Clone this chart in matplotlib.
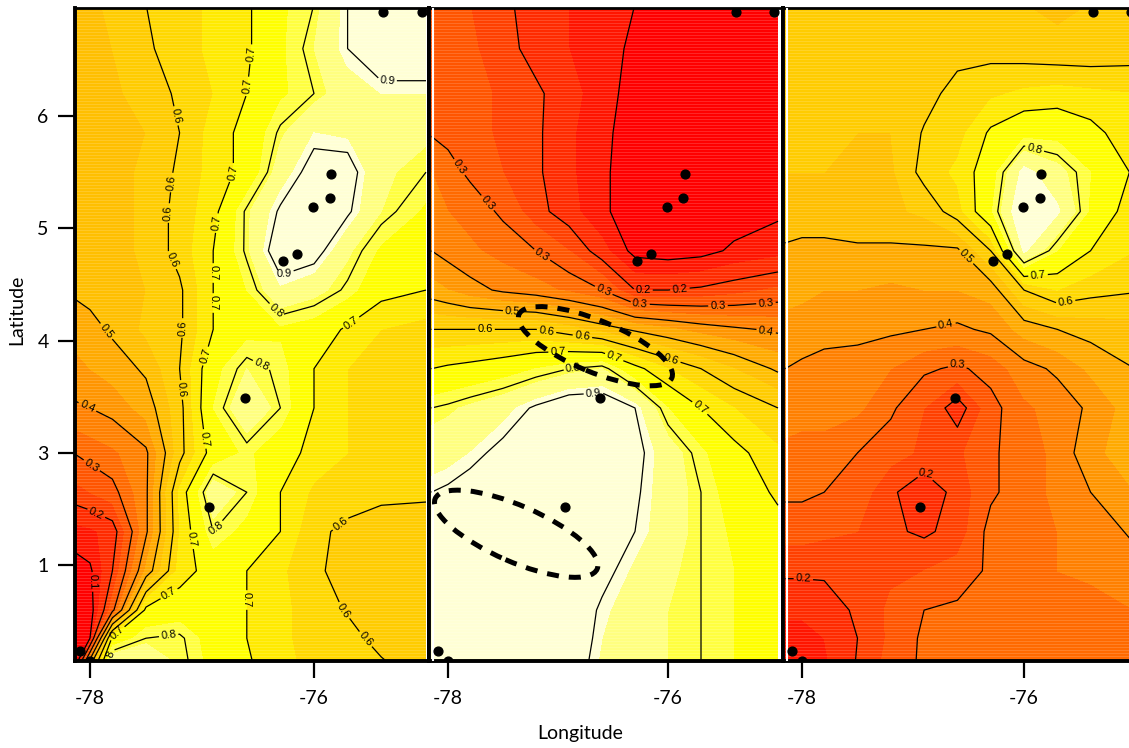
#!/usr/bin/env python3
import matplotlib
matplotlib.use("Agg")
import matplotlib.pyplot as plt
import numpy as np
from matplotlib.colors import BoundaryNorm, ListedColormap
from matplotlib.patches import Ellipse

plt.rcParams["font.family"] = ["Lato", "DejaVu Sans"]

lons = [-78.15, -78.0, -77.8, -77.5, -77.2, -76.9, -76.6, -76.3, -76.0, -75.7, -75.4, -75.0]
lats = [7.0, 6.6, 6.2, 5.85, 5.5, 5.15, 4.8, 4.45, 4.1, 3.75, 3.4, 3.0, 2.65, 2.3, 1.95, 1.6, 1.35, 1.1]

panel_a = [
    [.53, .54, .56, .60, .63, .66, .69, .76, .80, .90, .95, .95],
    [.52, .53, .55, .59, .63, .66, .69, .76, .82, .90, .95, .95],
    [.51, .52, .54, .57, .61, .65, .70, .76, .80, .85, .88, .88],
    [.50, .51, .53, .55, .60, .67, .72, .81, .88, .87, .84, .83],
    [.50, .51, .53, .56, .61, .67, .72, .85, .93, .93, .83, .80],
    [.50, .51, .53, .56, .62, .68, .81, .91, .95, .91, .82, .76],
    [.50, .51, .53, .56, .62, .70, .81, .95, .93, .83, .76, .73],
    [.51, .52, .53, .55, .59, .70, .77, .87, .84, .79, .72, .70],
    [.46, .48, .51, .56, .59, .70, .75, .76, .74, .69, .65, .63],
    [.44, .45, .47, .51, .60, .75, .82, .79, .70, .65, .64, .63],
    [.39, .40, .42, .47, .58, .77, .87, .80, .70, .65, .63, .62],
    [.30, .32, .34, .39, .58, .73, .78, .73, .68, .65, .63, .60],
    [.23, .25, .28, .39, .66, .86, .80, .70, .64, .62, .61, .61],
    [.13, .14, .17, .39, .65, .80, .75, .70, .61, .59, .58, .57],
    [.07, .09, .20, .46, .67, .73, .70, .66, .605, .59, .57, .57],
    [.05, .07, .28, .72, .74, .75, .70, .66, .63, .595, .58, .57],
    [.05, .10, .72, .80, .81, .74, .70, .66, .63, .62, .58, .57],
    [.05, .50, .90, .90, .82, .75, .71, .66, .64, .63, .61, .57],
]

panel_b = [
    [.26, .26, .25, .21, .18, .15, .12, .10, .07, .07, .06, .06],
    [.27, .27, .26, .22, .18, .15, .12, .09, .07, .06, .06, .06],
    [.28, .28, .27, .24, .21, .17, .12, .08, .06, .06, .06, .06],
    [.295, .285, .27, .24, .21, .16, .11, .08, .06, .06, .06, .06],
    [.35, .32, .29, .25, .21, .16, .11, .07, .06, .06, .06, .06],
    [.38, .35, .33, .29, .22, .17, .11, .07, .06, .06, .07, .09],
    [.40, .38, .36, .33, .30, .25, .17, .08, .07, .08, .11, .13],
    [.47, .45, .42, .39, .37, .34, .30, .20, .20, .21, .23, .26],
    [.60, .60, .60, .60, .60, .57, .53, .49, .46, .43, .41, .39],
    [.70, .71, .72, .74, .77, .80, .82, .72, .65, .60, .55, .49],
    [.80, .81, .83, .86, .91, .95, .95, .90, .77, .70, .65, .60],
    [.85, .86, .88, .92, .97, .98, .98, .92, .85, .78, .72, .66],
    [.90, .91, .93, .96, .98, .98, .97, .91, .85, .80, .74, .69],
    [.93, .94, .96, .98, .98, .98, .97, .90, .85, .80, .76, .72],
    [.95, .96, .97, .98, .98, .98, .92, .87, .83, .80, .77, .74],
    [.96, .97, .98, .98, .98, .95, .89, .85, .82, .80, .77, .75],
    [.97, .97, .98, .98, .98, .95, .88, .84, .82, .80, .77, .75],
    [.97, .97, .98, .98, .97, .94, .87, .84, .82, .80, .77, .75],
]

panel_c = [
    [.56, .57, .58, .59, .58, .57, .59, .57, .55, .54, .55, .58],
    [.57, .58, .58, .58, .57, .57, .58, .58, .57, .56, .56, .57],
    [.57, .57, .57, .56, .56, .58, .62, .64, .66, .67, .66, .65],
    [.56, .56, .56, .55, .55, .605, .63, .71, .75, .75, .72, .66],
    [.55, .55, .55, .54, .54, .62, .66, .74, .90, .84, .77, .69],
    [.54, .54, .54, .54, .54, .56, .63, .76, .95, .89, .76, .66],
    [.49, .48, .48, .49, .49, .49, .49, .60, .89, .77, .70, .65],
    [.47, .46, .45, .45, .44, .45, .45, .47, .60, .65, .62, .605],
    [.43, .43, .42, .42, .41, .40, .39, .41, .47, .50, .52, .53],
    [.40, .39, .38, .37, .35, .31, .29, .32, .38, .41, .46, .50],
    [.37, .36, .36, .36, .31, .25, .17, .28, .34, .37, .41, .48],
    [.34, .34, .34, .30, .27, .24, .24, .29, .33, .36, .44, .47],
    [.31, .31, .30, .28, .21, .16, .22, .29, .33, .36, .40, .45],
    [.27, .27, .26, .25, .21, .19, .22, .32, .33, .35, .37, .41],
    [.21, .21, .21, .24, .24, .25, .27, .31, .33, .35, .36, .38],
    [.16, .16, .17, .21, .26, .30, .31, .32, .33, .33, .33, .35],
    [.13, .13, .15, .20, .26, .31, .32, .33, .34, .34, .34, .35],
    [.12, .12, .14, .205, .27, .31, .33, .34, .35, .35, .35, .35],
]

site_lon = [-76.28, -76.15, -76.01, -75.86, -75.85, -75.38, -75.04, -76.62, -76.94, -78.09, -78.0]
site_lat = [4.71, 4.77, 5.19, 5.27, 5.48, 6.93, 6.93, 3.49, 2.52, 1.24, 1.15]

y_ticks = [6, 5, 4, 3, 2]
y_tick_labels = ["6", "5", "4", "3", "1"]
x_ticks = [-78, -76]
x_tick_labels = ["-78", "-76"]
line_levels = [.1, .2, .3, .4, .5, .6, .7, .8, .9]

fill_levels = [0, .1, .15, .2, .25, .3, .35, .4, .45, .5, .55, .6, .65, .7, .77, .82, .88, 1.01]
fill_colors = ["#FF0000", "#FF1500", "#FF2B00", "#FF4000", "#FF5500", "#FF6A00", "#FF8000",
               "#FF9500", "#FFAA00", "#FFBF00", "#FFCC00", "#FFD800", "#FFEA00", "#FFFF00",
               "#FFFF40", "#FFFF80", "#FFFFD5"]

W, H = 1129, 748
TOP, BOTTOM = 8, 661
# grid, left px, right px, px of lon -78, px per degree, highest line level, label positions in px
panels = [
    (panel_a, 75, 428.5, 90, 112, .9, [
        (180, 115), (167, 182), (169, 213), (168, 262), (176, 328), (180, 390),
        (259, 55), (253, 87), (231, 172), (216, 223), (214, 273), (221, 303), (209, 357),
        (204, 439), (187, 540), (168, 592), (117, 633), (243, 600), (355, 328),
        (279, 308), (262, 364), (216, 528), (168, 630), (387, 83), (286, 279), (108, 657),
        (108, 330), (92, 397), (94, 462), (94, 518), (91, 582),
        (335, 517), (335, 618), (368, 637),
    ]),
    (panel_b, 429, 783, 448, 110, .9, [
        (452, 172), (485, 205), (540, 258), (603, 292), (640, 304), (718, 307), (766, 304),
        (643, 275), (680, 290), (766, 332), (513, 306),
        (485, 329), (547, 328), (583, 332), (671, 360),
        (558, 347), (615, 355), (702, 405), (573, 365), (593, 385),
    ]),
    (panel_c, 783, 1132, 802, 111, .8, [
        (1033, 155), (1038, 275), (1065, 298), (960, 263), (947, 330), (957, 363),
        (926, 473), (803, 583),
    ]),
]
# center lon/lat, width, height, tilt of the dashed outlines in the middle panel
outlines = [((-77.38, 2.28), 1.6, 0.5, -23), ((-76.66, 3.95), 1.5, 0.46, -22)]


def px_to_lat(py):
    return 6 - (py - 116) / 112.3


def main():
    fig = plt.figure(figsize=(W / 100, H / 100), dpi=100)
    cmap = ListedColormap(fill_colors)
    norm = BoundaryNorm(fill_levels, cmap.N)

    for i, (grid, left, right, x78, scale, top_level, label_px) in enumerate(panels):
        ax = fig.add_axes([left / W, 1 - BOTTOM / H, (right - left) / W, (BOTTOM - TOP) / H])
        ax.set_xlim(-78 + (left - x78) / scale, -78 + (right - x78) / scale)
        ax.set_ylim(px_to_lat(BOTTOM), px_to_lat(TOP))

        values = np.array(grid)
        ax.contourf(lons, lats, values, levels=fill_levels, cmap=cmap, norm=norm)
        # faint raster stripes of the original image
        ax.hlines(px_to_lat(np.arange(TOP, BOTTOM, 3.0)), *ax.get_xlim(),
                  color="white", linewidth=0.5, alpha=0.22)
        levels = [v for v in line_levels if v <= top_level]
        lines = ax.contour(lons, lats, values, levels=levels, colors="black", linewidths=0.9)
        spots = [(-78 + (px - x78) / scale, px_to_lat(py)) for px, py in label_px]
        labels = ax.clabel(lines, fmt="%.1f", fontsize=8, manual=spots, inline_spacing=2)
        for t in labels:
            t.set_family(["Liberation Sans"])

        # white sliver between the frame and the image
        if i > 0:
            ax.axvline(-78 + (left + 4 - x78) / scale, color="white", linewidth=1.5, zorder=4)

        ax.scatter(site_lon, site_lat, s=40, color="black", zorder=5)

        if i == 1:
            for center, width, height, angle in outlines:
                ax.add_patch(Ellipse(center, width, height, angle=angle, fill=False,
                                     edgecolor="black", linewidth=3.6,
                                     linestyle=(0, (2.4, 2.0)), zorder=6))

        for side in ax.spines.values():
            side.set_linewidth(2.8)
        ax.spines["top"].set_linewidth(2)

        ax.set_xticks(x_ticks)
        ax.set_xticklabels(x_tick_labels, fontsize=14)
        ax.tick_params(axis="x", length=12, width=1.6, pad=9)
        if i == 0:
            ax.set_yticks(y_ticks)
            ax.set_yticklabels(y_tick_labels, fontsize=14)
            ax.tick_params(axis="y", length=12, width=1.6, pad=7)
        else:
            ax.set_yticks([])

    fig.text(580 / W, 1 - 733 / H, "Longitude", ha="center", va="center", fontsize=14)
    fig.text(17 / W, 1 - 310 / H, "Latitude", ha="center", va="center", rotation=90, fontsize=14)
    fig.savefig("out.png", dpi=100)


if __name__ == "__main__":
    main()
